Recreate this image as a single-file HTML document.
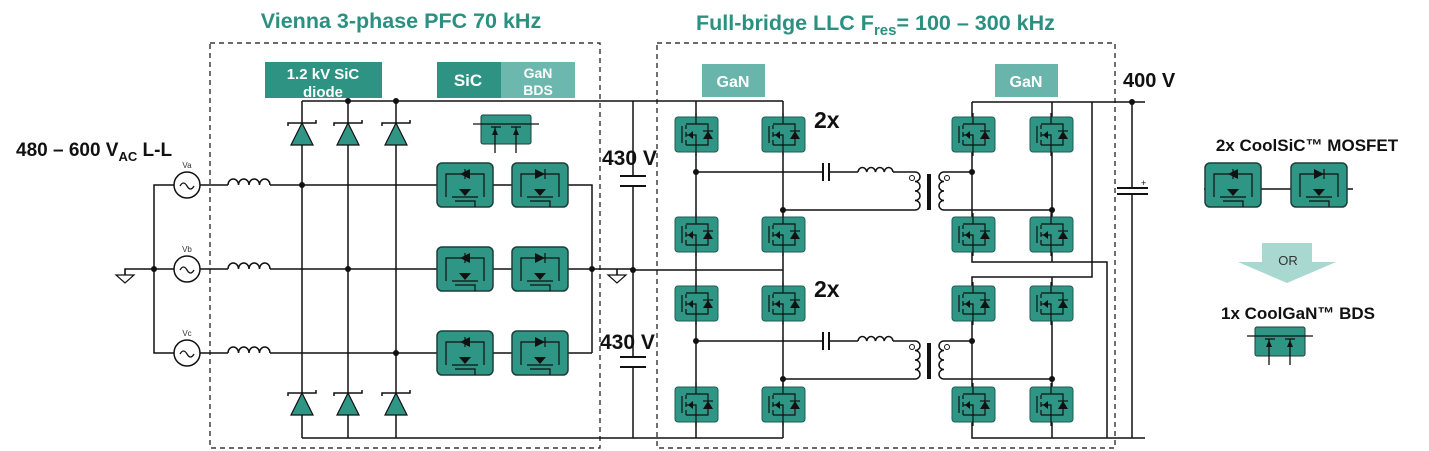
<!DOCTYPE html>
<html><head><meta charset="utf-8"><style>
html,body{margin:0;padding:0;background:#fff;}
svg{display:block;}
text{font-family:"Liberation Sans",Arial,sans-serif;}
</style></head><body>
<svg width="1429" height="451" viewBox="0 0 1429 451" xmlns="http://www.w3.org/2000/svg">
<defs>
<g id="gan">
  <rect x="0" y="0" width="43" height="35" rx="3" fill="#2f9585" stroke="#1d5e55" stroke-width="1"/>
  <g fill="none" stroke="#111" stroke-width="1.2">
    <path d="M21 -4 V7 H11 M11 28 H21 V39 M7 9 V26 M11 8 V12 M11 15 V20 M11 23 V28 M11 18 H21 V28 M21 7 H33 V28 H21"/>
  </g>
  <polygon points="13,18 18,14 18,22" fill="#111"/>
  <polygon points="28,22 38,22 33,14" fill="#111"/>
  <line x1="28" y1="14" x2="38" y2="14" stroke="#111" stroke-width="1.2"/>
</g>
<g id="sic">
  <rect x="0" y="0" width="56" height="44" rx="5" fill="#2f9585" stroke="#1d3e3a" stroke-width="1.5"/>
  <g fill="none" stroke="#111" stroke-width="1.2">
    <path d="M9 22 V11 H47 V22 M9 22 V34 M47 22 V34 M15 34 H41 M18 38 H38 V44"/>
    <line x1="28" y1="6" x2="28" y2="16"/>
  </g>
  <polygon points="23,11 33,6 33,16" fill="#111"/>
  <polygon points="22,26 34,26 28,33" fill="#111"/>
</g>
<g id="sic2">
  <rect x="0" y="0" width="56" height="44" rx="5" fill="#2f9585" stroke="#1d3e3a" stroke-width="1.5"/>
  <g fill="none" stroke="#111" stroke-width="1.2">
    <path d="M9 22 V11 H47 V22 M9 22 V34 M47 22 V34 M15 34 H41 M18 38 H38 V44"/>
    <line x1="33" y1="6" x2="33" y2="16"/>
  </g>
  <polygon points="23,6 33,11 23,16" fill="#111"/>
  <polygon points="22,26 34,26 28,33" fill="#111"/>
</g>
<g id="dup">
  <polygon points="-11,11 11,11 0,-11" fill="#2f9585" stroke="#111" stroke-width="1.2"/>
  <path d="M-14 -8 V-11 H14 V-14" fill="none" stroke="#111" stroke-width="1.5"/>
</g>
<g id="bds">
  <rect x="0" y="0" width="50" height="29" rx="2" fill="#2f9585" stroke="#1d3e3a" stroke-width="1"/>
  <g fill="none" stroke="#111" stroke-width="1.3">
    <path d="M-8 9 H58 M10 12 H20 M30 12 H40 M14 12 V38 M35 12 V38 M23 9 H27"/>
  </g>
  <polygon points="11,20 17,20 14,13" fill="#111"/>
  <polygon points="32,20 38,20 35,13" fill="#111"/>
</g>
<g id="src">
  <circle cx="0" cy="0" r="13" fill="#fff" stroke="#111" stroke-width="1.5"/>
  <path d="M-7 1 q3.5 -6 7 0 t7 0" fill="none" stroke="#111" stroke-width="1.3"/>
</g>
<g id="gnd">
  <path d="M0 0 V6 M-9 6 H9 L0 14 Z" fill="none" stroke="#111" stroke-width="1.2"/>
</g>
</defs>

<!-- titles -->
<text x="401" y="28" text-anchor="middle" font-size="21.5" font-weight="bold" fill="#2b9080">Vienna 3-phase PFC 70 kHz</text>
<text x="696" y="30" font-size="21.5" font-weight="bold" fill="#2b9080">Full-bridge LLC  F<tspan font-size="15" dy="5">res</tspan><tspan dy="-5">= 100 – 300 kHz</tspan></text>

<!-- dashed boxes -->
<rect x="210" y="43" width="390" height="405" fill="none" stroke="#111" stroke-width="1.2" stroke-dasharray="5,4"/>
<rect x="657" y="43" width="458" height="405" fill="none" stroke="#111" stroke-width="1.2" stroke-dasharray="5,4"/>

<!-- label boxes -->
<rect x="265" y="62" width="117" height="36" fill="#2f9384"/>
<text x="323" y="79" text-anchor="middle" font-size="15" font-weight="bold" fill="#fff">1.2 kV SiC</text>
<text x="323" y="97" text-anchor="middle" font-size="15" font-weight="bold" fill="#fff">diode</text>
<rect x="437" y="62" width="64" height="36" fill="#2f9384"/>
<text x="468" y="86" text-anchor="middle" font-size="17" font-weight="bold" fill="#fff">SiC</text>
<rect x="501" y="62" width="74" height="36" fill="#6db8ae"/>
<text x="538" y="78" text-anchor="middle" font-size="14" font-weight="bold" fill="#fff">GaN</text>
<text x="538" y="95" text-anchor="middle" font-size="14" font-weight="bold" fill="#fff">BDS</text>
<rect x="702" y="64" width="63" height="33" fill="#6ab5ab"/>
<text x="733" y="87" text-anchor="middle" font-size="16" font-weight="bold" fill="#fff">GaN</text>
<rect x="995" y="64" width="63" height="33" fill="#6ab5ab"/>
<text x="1026" y="87" text-anchor="middle" font-size="16" font-weight="bold" fill="#fff">GaN</text>

<!-- text labels -->
<text x="16" y="156" font-size="19" font-weight="bold" fill="#111">480 – 600 V<tspan font-size="13" dy="5">AC</tspan><tspan dy="-5"> L-L</tspan></text>
<text x="187" y="168" text-anchor="middle" font-size="8" fill="#333">Va</text>
<text x="187" y="252" text-anchor="middle" font-size="8" fill="#333">Vb</text>
<text x="187" y="336" text-anchor="middle" font-size="8" fill="#333">Vc</text>
<text x="602" y="165" font-size="21" font-weight="bold" fill="#111">430 V</text>
<text x="600" y="349" font-size="21" font-weight="bold" fill="#111">430 V</text>
<text x="814" y="128" font-size="23" font-weight="bold" fill="#111">2x</text>
<text x="814" y="297" font-size="23" font-weight="bold" fill="#111">2x</text>
<text x="1123" y="87" font-size="20" font-weight="bold" fill="#111">400 V</text>

<g fill="none" stroke="#111" stroke-width="1.5">
  <path d="M174 185 H154 V353 H174 M154 269 H174 M154 269 H125 V275"/>
  <path d="M200 185 H228 M270 185 H592 V353 M200 269 H228 M270 269 H633 M200 353 H228 M270 353 H592"/>
  <path d="M228 185 a5.25 6 0 0 1 10.5 0 a5.25 6 0 0 1 10.5 0 a5.25 6 0 0 1 10.5 0 a5.25 6 0 0 1 10.5 0"/>
  <path d="M228 269 a5.25 6 0 0 1 10.5 0 a5.25 6 0 0 1 10.5 0 a5.25 6 0 0 1 10.5 0 a5.25 6 0 0 1 10.5 0"/>
  <path d="M228 353 a5.25 6 0 0 1 10.5 0 a5.25 6 0 0 1 10.5 0 a5.25 6 0 0 1 10.5 0 a5.25 6 0 0 1 10.5 0"/>
  <path d="M302 101 V438 M348 101 V438 M396 101 V438"/>
  <path d="M302 101 H783 M302 438 H783"/>
  <path d="M633 101 V176 M633 186 V357 M633 367 V438"/>
  <path d="M620 176 H646 M620 186 H646 M620 357 H646 M620 367 H646" stroke-width="2"/>
  <path d="M617 269 V275"/>
  <path d="M633 270 H783"/>
  <path d="M696 101 V438 M783 101 V438"/>
  <path d="M696 172 H823 M829 172 H858 M893 172 H905 M783 210 H915"/>
  <path d="M696 341 H823 M829 341 H858 M893 341 H905 M783 379 H915"/>
  <path d="M823 163 V181 M829 163 V181 M823 332 V350 M829 332 V350" stroke-width="2"/>
  <path d="M858 172 a4.4 5 0 0 1 8.75 0 a4.4 5 0 0 1 8.75 0 a4.4 5 0 0 1 8.75 0 a4.4 5 0 0 1 8.75 0"/>
  <path d="M858 341 a4.4 5 0 0 1 8.75 0 a4.4 5 0 0 1 8.75 0 a4.4 5 0 0 1 8.75 0 a4.4 5 0 0 1 8.75 0"/>
  <path d="M905 172 H915 a5 4.75 0 0 1 0 9.5 a5 4.75 0 0 1 0 9.5 a5 4.75 0 0 1 0 9.5 a5 4.75 0 0 1 0 9.5"/>
  <path d="M972 172 H944 a5 4.75 0 0 0 0 9.5 a5 4.75 0 0 0 0 9.5 a5 4.75 0 0 0 0 9.5 a5 4.75 0 0 0 0 9.5 H1052"/>
  <path d="M905 341 H915 a5 4.75 0 0 1 0 9.5 a5 4.75 0 0 1 0 9.5 a5 4.75 0 0 1 0 9.5 a5 4.75 0 0 1 0 9.5"/>
  <path d="M972 341 H944 a5 4.75 0 0 0 0 9.5 a5 4.75 0 0 0 0 9.5 a5 4.75 0 0 0 0 9.5 a5 4.75 0 0 0 0 9.5 H1052"/>
  <path d="M929 174 V210 M929 343 V379" stroke-width="4"/>
  <path d="M972 102 H1145 M972 102 V262 H1107 V438 M1052 102 V262"/>
  <path d="M1092 102 V277 H972 V438 H1145 M1052 277 V438"/>
  <path d="M1132 102 V188 M1132 194 V438"/>
  <path d="M1117 188 H1148 M1117 194 H1148" stroke-width="2"/>
  <path d="M1204 189 H1353"/>
</g>
<circle cx="912" cy="178" r="2.5" fill="#fff" stroke="#111"/>
<circle cx="947" cy="178" r="2.5" fill="#fff" stroke="#111"/>
<circle cx="912" cy="347" r="2.5" fill="#fff" stroke="#111"/>
<circle cx="947" cy="347" r="2.5" fill="#fff" stroke="#111"/>
<text x="1141" y="186" font-size="9" fill="#111">+</text>

<g fill="#111">
  <circle cx="154" cy="269" r="3"/><circle cx="302" cy="185" r="3"/><circle cx="348" cy="269" r="3"/><circle cx="396" cy="353" r="3"/>
  <circle cx="348" cy="101" r="3"/><circle cx="396" cy="101" r="3"/>
  <circle cx="592" cy="269" r="3"/><circle cx="633" cy="270" r="3"/>
  <circle cx="696" cy="172" r="3"/><circle cx="783" cy="210" r="3"/><circle cx="972" cy="172" r="3"/><circle cx="1052" cy="210" r="3"/>
  <circle cx="696" cy="341" r="3"/><circle cx="783" cy="379" r="3"/><circle cx="972" cy="341" r="3"/><circle cx="1052" cy="379" r="3"/>
  <circle cx="1132" cy="102" r="3"/>
</g>

<use href="#src" x="187" y="185"/><use href="#src" x="187" y="269"/><use href="#src" x="187" y="353"/>
<use href="#gnd" x="125" y="269"/>
<use href="#gnd" x="617" y="269"/>

<use href="#dup" x="302" y="134"/><use href="#dup" x="348" y="134"/><use href="#dup" x="396" y="134"/>
<use href="#dup" x="302" y="404"/><use href="#dup" x="348" y="404"/><use href="#dup" x="396" y="404"/>

<use href="#sic" x="437" y="163"/><use href="#sic2" x="512" y="163"/>
<use href="#sic" x="437" y="247"/><use href="#sic2" x="512" y="247"/>
<use href="#sic" x="437" y="331"/><use href="#sic2" x="512" y="331"/>
<use href="#bds" x="481" y="115"/>

<use href="#gan" x="675" y="117"/><use href="#gan" x="762" y="117"/>
<use href="#gan" x="675" y="217"/><use href="#gan" x="762" y="217"/>
<use href="#gan" x="675" y="286"/><use href="#gan" x="762" y="286"/>
<use href="#gan" x="675" y="387"/><use href="#gan" x="762" y="387"/>
<use href="#gan" x="952" y="117"/><use href="#gan" x="1030" y="117"/>
<use href="#gan" x="952" y="217"/><use href="#gan" x="1030" y="217"/>
<use href="#gan" x="952" y="286"/><use href="#gan" x="1030" y="286"/>
<use href="#gan" x="952" y="387"/><use href="#gan" x="1030" y="387"/>

<text x="1307" y="151" text-anchor="middle" font-size="17" font-weight="bold" fill="#111">2x CoolSiC™ MOSFET</text>
<use href="#sic" x="1205" y="163"/><use href="#sic2" x="1291" y="163"/>
<polygon points="1262,243 1312,243 1312,262 1336,262 1287,283 1238,262 1262,262" fill="#a9d8d0"/>
<text x="1288" y="265" text-anchor="middle" font-size="13" fill="#333">OR</text>
<text x="1298" y="319" text-anchor="middle" font-size="17" font-weight="bold" fill="#111">1x CoolGaN™ BDS</text>
<use href="#bds" x="1255" y="327"/>
</svg>
</body></html>
